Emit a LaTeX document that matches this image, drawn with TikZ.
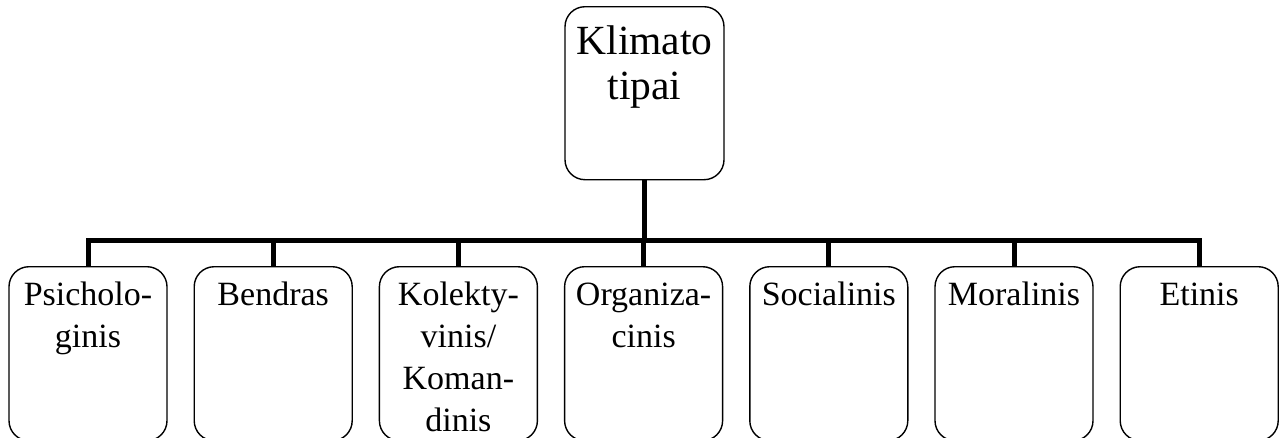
\documentclass[tikz,border=0pt]{standalone}
\usepackage{fontspec}
\setmainfont{Liberation Serif}
\usetikzlibrary{positioning}

% text set at the top of a box: width, height, first-baseline drop, content
\newcommand\toptext[4]{\parbox[c][#2][t]{#1}{\centering\rule{0pt}{#3}#4\par}}

\tikzset{
  rootbox/.style={draw, line width=1.4pt, rounded corners=20pt,
    minimum width=159pt, inner sep=0pt, anchor=north,
    font=\fontsize{41.5}{45}\selectfont},
  childbox/.style={draw, line width=1.4pt, rounded corners=20pt,
    minimum width=158pt, inner sep=0pt, anchor=north,
    font=\fontsize{34}{42}\selectfont},
  conn/.style={line width=5pt, line join=miter}
}

\begin{document}
\begin{tikzpicture}[x=1pt, y=-1pt]
  \useasboundingbox (0,0) rectangle (1279,437);
  \clip (0,0) rectangle (1279,437);

  \node[rootbox] (root) at (644.5,6)
    {\toptext{157pt}{173pt}{48pt}{Klimato\\tipai}};

  \node[childbox] (c1) at (88,266)
    {\toptext{156pt}{174pt}{39pt}{Psicholo-\\ginis}};
  \node[childbox] (c2) at (273.2,266)
    {\toptext{156pt}{174pt}{39pt}{Bendras}};
  \node[childbox] (c3) at (458.4,266)
    {\toptext{156pt}{174pt}{39pt}{Kolekty-\\vinis/\\Koman-\\dinis}};
  \node[childbox] (c4) at (643.6,266)
    {\toptext{156pt}{174pt}{39pt}{Organiza-\\cinis}};
  \node[childbox] (c5) at (828.8,266)
    {\toptext{156pt}{174pt}{39pt}{Socialinis}};
  \node[childbox] (c6) at (1014,266)
    {\toptext{156pt}{174pt}{39pt}{Moralinis}};
  \node[childbox] (c7) at (1199.2,266)
    {\toptext{156pt}{174pt}{39pt}{Etinis}};

  \foreach \c in {c1,c2,c3,c4,c5,c6,c7}
    \draw[conn] (root.south) -- ++(0,60) -| (\c.north);
\end{tikzpicture}
\end{document}
